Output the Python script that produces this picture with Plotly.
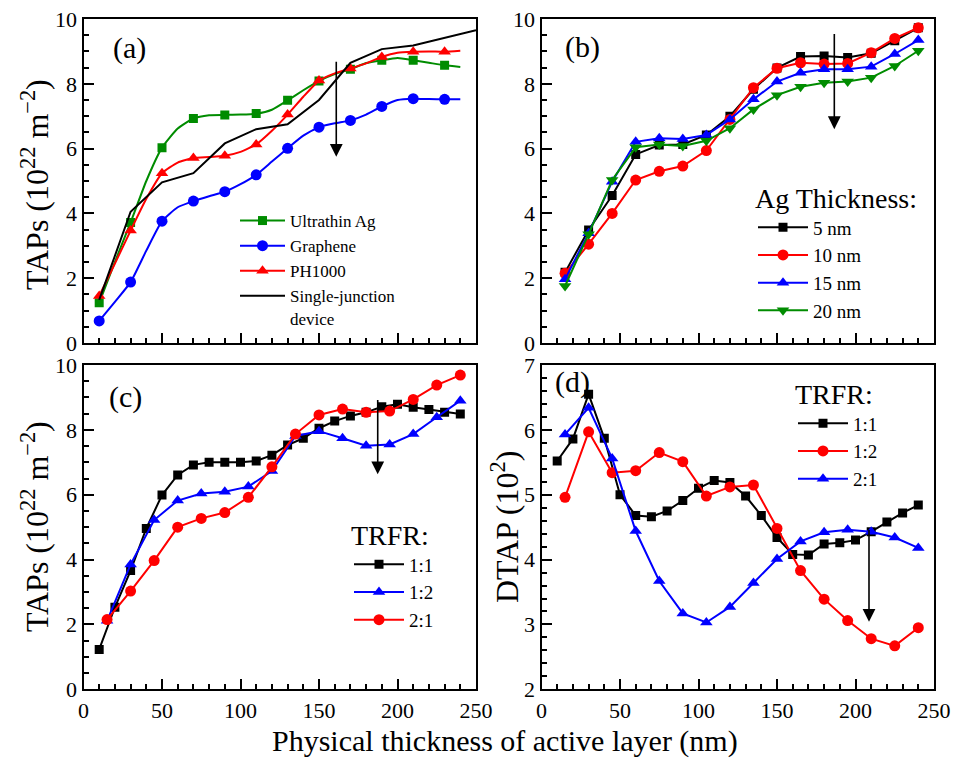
import plotly.graph_objects as go

# ---------------- data ----------------
# Panel (a)
x_a = [10, 20, 30, 40, 50, 60, 70, 80, 90, 100, 110, 120, 130, 140, 150, 160, 170, 180, 190, 200, 210, 220, 230, 240]
a_ag = [1.24, 2.5, 3.72, 5.0, 6.03, 6.62, 6.93, 7.03, 7.04, 7.05, 7.08, 7.2, 7.49, 7.8, 8.09, 8.3, 8.45, 8.64, 8.73, 8.8, 8.73, 8.65, 8.57, 8.52]
a_gr = [0.68, 1.27, 1.88, 2.85, 3.76, 4.19, 4.38, 4.53, 4.67, 4.9, 5.19, 5.6, 6.01, 6.4, 6.66, 6.78, 6.87, 7.05, 7.3, 7.5, 7.54, 7.53, 7.52, 7.52]
a_ph = [1.45, 2.45, 3.47, 4.45, 5.24, 5.57, 5.71, 5.74, 5.78, 5.9, 6.13, 6.55, 7.05, 7.6, 8.1, 8.32, 8.47, 8.63, 8.83, 8.96, 8.99, 9.0, 8.99, 9.02]
x_a_sj = [10, 30, 50, 70, 90, 110, 130, 150, 170, 190, 210, 230, 250]
a_sj = [1.33, 4.05, 4.96, 5.24, 6.16, 6.6, 6.75, 7.5, 8.65, 9.07, 9.18, 9.42, 9.65]

# Panel (b)
x_b = [15, 30, 45, 60, 75, 90, 105, 120, 135, 150, 165, 180, 195, 210, 225, 240]
b_5 = [2.18, 3.49, 4.55, 5.82, 6.11, 6.13, 6.42, 7.0, 7.83, 8.49, 8.84, 8.86, 8.81, 8.94, 9.33, 9.73]
b_10 = [2.15, 3.05, 4.0, 5.03, 5.3, 5.46, 5.94, 6.9, 7.88, 8.48, 8.65, 8.61, 8.63, 8.96, 9.4, 9.73]
b_15 = [1.97, 3.39, 4.98, 6.21, 6.32, 6.3, 6.42, 6.9, 7.52, 8.07, 8.34, 8.45, 8.45, 8.53, 8.92, 9.35]
b_20 = [1.76, 3.36, 5.03, 6.04, 6.13, 6.08, 6.24, 6.63, 7.21, 7.65, 7.91, 8.03, 8.07, 8.19, 8.55, 9.02]

# Panel (c)
x_c11 = [10, 20, 30, 40, 50, 60, 70, 80, 90, 100, 110, 120, 130, 140, 150, 160, 170, 180, 190, 200, 210, 220, 230, 240]
c_11 = [1.23, 2.53, 3.66, 4.96, 5.99, 6.61, 6.92, 7.0, 7.0, 7.0, 7.04, 7.22, 7.53, 7.74, 8.05, 8.27, 8.43, 8.54, 8.71, 8.79, 8.7, 8.63, 8.54, 8.49]
x_c = [15, 30, 45, 60, 75, 90, 105, 120, 135, 150, 165, 180, 195, 210, 225, 240]
c_12 = [2.11, 3.85, 5.22, 5.82, 6.04, 6.09, 6.25, 6.73, 7.81, 7.96, 7.74, 7.51, 7.55, 7.87, 8.39, 8.9]
c_21 = [2.15, 3.03, 3.97, 5.0, 5.27, 5.45, 5.92, 6.86, 7.87, 8.46, 8.64, 8.54, 8.58, 8.94, 9.38, 9.69]

# Panel (d)
x_d11 = [10, 20, 30, 40, 50, 60, 70, 80, 90, 100, 110, 120, 130, 140, 150, 160, 170, 180, 190, 200, 210, 220, 230, 240]
d_11 = [5.52, 5.86, 6.55, 5.87, 5.0, 4.68, 4.66, 4.75, 4.91, 5.1, 5.22, 5.19, 4.98, 4.68, 4.34, 4.08, 4.07, 4.24, 4.26, 4.3, 4.43, 4.58, 4.72, 4.84]
x_d = [15, 30, 45, 60, 75, 90, 105, 120, 135, 150, 165, 180, 195, 210, 225, 240]
d_12 = [4.96, 5.97, 5.34, 5.37, 5.65, 5.51, 4.98, 5.12, 5.15, 4.48, 3.83, 3.39, 3.06, 2.78, 2.67, 2.95]
d_21 = [5.93, 6.34, 5.56, 4.44, 3.67, 3.17, 3.03, 3.27, 3.64, 4.01, 4.28, 4.42, 4.46, 4.43, 4.34, 4.18]

# arrows: (x, y_start, y_end) per panel
arrows = {"a": (161, 8.73, 5.75), "b": (186.5, 9.58, 6.6), "c": (187.4, 8.97, 6.63), "d": (208.6, 4.48, 3.04)}

# ---------------- styling ----------------
FONT = "Liberation Serif"
GREEN = "#008c00"
BLUE = "#0000ff"
RED = "#ff0000"
BLACK = "#000000"
OFF = 8                      # page body margin
W, H = 963 - 2 * OFF, 767 - 2 * OFF


def PX(px):
    return (px - OFF) / W


def PY(py):
    return 1 - (py - OFF) / H


fig = go.Figure()


def every_other(xs, ys):
    mx, my = [], []
    for i in range(0, len(xs), 2):
        mx += [xs[i], None]
        my += [ys[i], None]
    return mx, my


def add_a(ys, color, symbol, name, size):
    fig.add_trace(go.Scatter(x=x_a, y=ys, mode="lines", line=dict(color=color, width=2, shape="spline", smoothing=0.5),
                             showlegend=False, xaxis="x", yaxis="y", hoverinfo="skip"))
    mx, my = every_other(x_a, ys)
    fig.add_trace(go.Scatter(x=mx, y=my, mode="lines+markers", connectgaps=False, name=name,
                             line=dict(color=color, width=2),
                             marker=dict(symbol=symbol, size=size, color=color),
                             xaxis="x", yaxis="y", legend="legend"))


add_a(a_ag, GREEN, "square", "Ultrathin Ag", 9)
add_a(a_gr, BLUE, "circle", "Graphene", 11)
add_a(a_ph, RED, "triangle-up", "PH1000", 11)
fig.add_trace(go.Scatter(x=x_a_sj, y=a_sj, mode="lines", name="Single-junction<br>device",
                         line=dict(color=BLACK, width=2), xaxis="x", yaxis="y", legend="legend"))


def add(xs, ys, color, symbol, name, size, xa, ya, leg):
    fig.add_trace(go.Scatter(x=xs, y=ys, mode="lines+markers", name=name,
                             line=dict(color=color, width=2),
                             marker=dict(symbol=symbol, size=size, color=color),
                             xaxis=xa, yaxis=ya, legend=leg))


add(x_b, b_5, BLACK, "square", "5 nm", 9, "x2", "y2", "legend2")
add(x_b, b_10, RED, "circle", "10 nm", 11, "x2", "y2", "legend2")
add(x_b, b_15, BLUE, "triangle-up", "15 nm", 11, "x2", "y2", "legend2")
add(x_b, b_20, GREEN, "triangle-down", "20 nm", 11, "x2", "y2", "legend2")

add(x_c11, c_11, BLACK, "square", "1:1", 9, "x3", "y3", "legend3")
add(x_c, c_12, BLUE, "triangle-up", "1:2", 11, "x3", "y3", "legend3")
add(x_c, c_21, RED, "circle", "2:1", 11, "x3", "y3", "legend3")

add(x_d11, d_11, BLACK, "square", "1:1", 9, "x4", "y4", "legend4")
add(x_d, d_12, RED, "circle", "1:2", 11, "x4", "y4", "legend4")
add(x_d, d_21, BLUE, "triangle-up", "2:1", 11, "x4", "y4", "legend4")

tickfont = dict(family=FONT, size=22, color="black")


def xax(domain, anchor, labels):
    return dict(domain=domain, anchor=anchor, range=[0, 250], dtick=50, tick0=0, automargin=False,
                ticks="inside", ticklen=10, tickwidth=1.5, tickcolor="black", ticklabeloverflow="allow",
                minor=dict(dtick=10, ticks="inside", ticklen=5, tickwidth=1.5, tickcolor="black"),
                showline=True, linewidth=2, linecolor="black", mirror=True,
                showgrid=False, zeroline=False, showticklabels=labels, tickfont=tickfont)


def yax(domain, anchor, rng, dtick, mdt):
    return dict(domain=domain, anchor=anchor, range=rng, dtick=dtick, tick0=0, automargin=False,
                ticks="inside", ticklen=10, tickwidth=1.5, tickcolor="black", ticklabeloverflow="allow",
                minor=dict(dtick=mdt, ticks="inside", ticklen=5, tickwidth=1.5, tickcolor="black"),
                showline=True, linewidth=2, linecolor="black", mirror=True,
                showgrid=False, zeroline=False, tickfont=tickfont)


xL = [PX(83.5), PX(476)]
xR = [PX(541.5), PX(934)]
yT = [PY(343), PY(19)]
yB = [PY(689.3), PY(365)]
taps = "TAPs (10<sup>22</sup> m<sup>−2</sup>)"

legfont = dict(family=FONT, size=19, color="black")
titfont = dict(family=FONT, size=28, color="black")
fig.update_layout(
    width=W, height=H, margin=dict(l=0, r=0, t=0, b=0, autoexpand=False),
    paper_bgcolor="white", plot_bgcolor="white",
    xaxis=xax(xL, "y", False), yaxis=yax(yT, "x", [0, 10], 2, 0.5),
    xaxis2=xax(xR, "y2", False), yaxis2=yax(yT, "x2", [0, 10], 2, 0.5),
    xaxis3=xax(xL, "y3", True), yaxis3=yax(yB, "x3", [0, 10], 2, 0.5),
    xaxis4=xax(xR, "y4", True), yaxis4=yax(yB, "x4", [2, 7], 1, 0.2),
    legend=dict(x=PX(235), y=PY(203), xanchor="left", yanchor="top", bgcolor="rgba(0,0,0,0)",
                font=dict(family=FONT, size=17, color="black"), itemwidth=45, tracegroupgap=0,
                valign="top"),
    legend2=dict(x=PX(753), y=PY(172), xanchor="left", yanchor="top", bgcolor="rgba(0,0,0,0)",
                 font=legfont, itemwidth=50, title=dict(text="Ag Thickness:", font=titfont)),
    legend3=dict(x=PX(349), y=PY(509), xanchor="left", yanchor="top", bgcolor="rgba(0,0,0,0)",
                 font=legfont, itemwidth=50, title=dict(text="TRFR:", font=titfont)),
    legend4=dict(x=PX(793), y=PY(368), xanchor="left", yanchor="top", bgcolor="rgba(0,0,0,0)",
                 font=legfont, itemwidth=50, title=dict(text="TRFR:", font=titfont)),
)

ann = []
for lab, xa, ya, px, py in [("(a)", "x", "y", 0.07, 0.91), ("(b)", "x2", "y2", 0.055, 0.915),
                            ("(c)", "x3", "y3", 0.059, 0.902), ("(d)", "x4", "y4", 0.029, 0.948)]:
    ann.append(dict(text=lab, xref=xa + " domain", yref=ya + " domain", x=px, y=py, xanchor="left",
                    yanchor="middle", showarrow=False, font=dict(family=FONT, size=30, color="black")))

for key, (xa, ya) in zip("abcd", [("x", "y"), ("x2", "y2"), ("x3", "y3"), ("x4", "y4")]):
    ax_, y0, y1 = arrows[key]
    ann.append(dict(x=ax_, y=y1, ax=ax_, ay=y0, xref=xa, yref=ya, axref=xa, ayref=ya, text="",
                    showarrow=True, arrowhead=2, arrowsize=1.6, arrowwidth=1.6, arrowcolor="black"))

axis_title_font = dict(family=FONT, size=32, color="black")
ann.append(dict(text="Physical thickness of active layer (nm)", xref="paper", yref="paper",
                x=PX(505), y=PY(741), xanchor="center", yanchor="middle", showarrow=False,
                font=dict(family=FONT, size=30, color="black")))
for txt, px, py in [(taps, 35, 185), (taps, 35, 527), ("DTAP (10<sup>2</sup>)", 505, 527)]:
    ann.append(dict(text=txt, textangle=-90, xref="paper", yref="paper", x=PX(px), y=PY(py),
                    xanchor="center", yanchor="middle", showarrow=False, font=axis_title_font))
fig.update_layout(annotations=ann)

fig.write_html("out.html")
